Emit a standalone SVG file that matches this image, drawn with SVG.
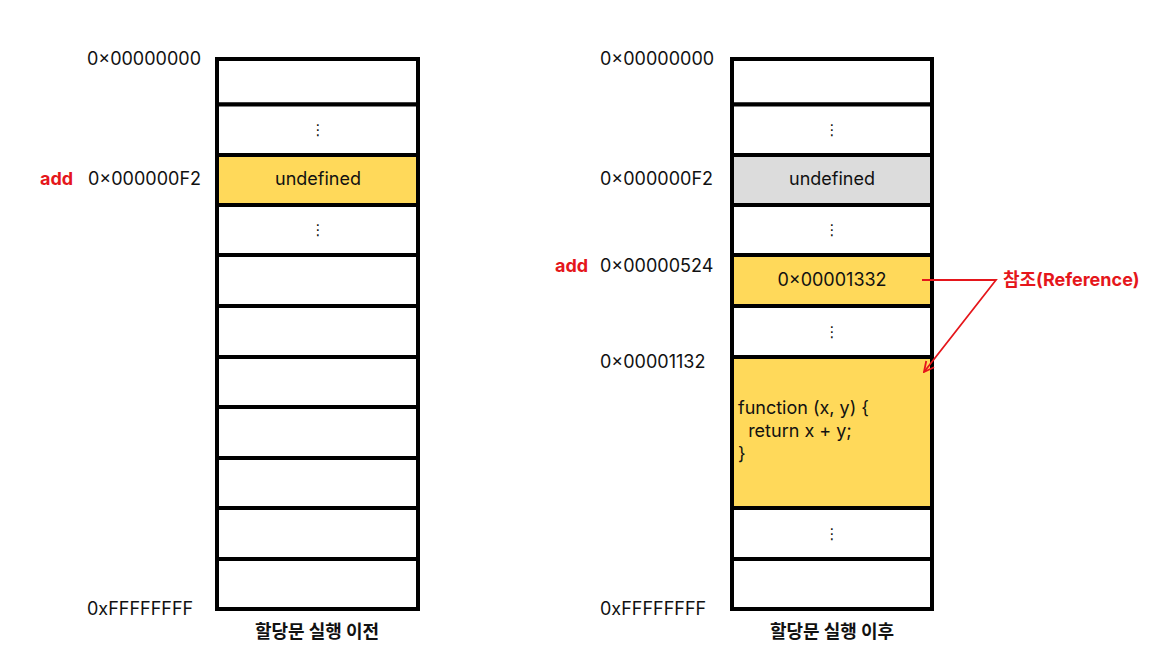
<svg xmlns="http://www.w3.org/2000/svg" width="1176" height="666" viewBox="0 0 1176 666">
<defs>
<style>
.cell{stroke:#000;stroke-width:4;fill:#fff}
.y{fill:#FFD95A}
.g{fill:#DCDCDC}
.t{font-family:Inter,"Liberation Sans","Noto Sans CJK KR",sans-serif;font-size:18px;fill:#111}
.c{text-anchor:middle}
.r{text-anchor:end}
.red{font-family:Inter,"Liberation Sans","Noto Sans CJK KR",sans-serif;font-size:18px;font-weight:bold;fill:#E5161B}
.cap{font-family:"Noto Sans CJK KR",sans-serif;font-size:18px;font-weight:bold;fill:#111;text-anchor:middle}
.dots{font-family:"DejaVu Sans",sans-serif;font-size:15px;fill:#111;text-anchor:middle}
</style>
<marker id="ah" viewBox="0 0 12 12" refX="11" refY="6" markerWidth="12" markerHeight="12" markerUnits="userSpaceOnUse" orient="auto">
<path d="M1,1 L11,6 L1,11" fill="none" stroke="#E5161B" stroke-width="1.8"/>
</marker>
</defs>
<rect width="1176" height="666" fill="#fff"/>

<g id="left-memory">
<rect class="cell" x="217" y="59" width="201" height="45.5"/>
<rect class="cell" x="217" y="104.5" width="201" height="50.5"/>
<rect class="cell y" x="217" y="155" width="201" height="50"/>
<rect class="cell" x="217" y="205" width="201" height="50"/>
<rect class="cell" x="217" y="255" width="201" height="51"/>
<rect class="cell" x="217" y="306" width="201" height="51"/>
<rect class="cell" x="217" y="357" width="201" height="50"/>
<rect class="cell" x="217" y="407" width="201" height="51"/>
<rect class="cell" x="217" y="458" width="201" height="50"/>
<rect class="cell" x="217" y="508" width="201" height="51"/>
<rect class="cell" x="217" y="559" width="201" height="50"/>
<text class="dots" x="318" y="135">⋮</text>
<text class="t c" x="318" y="185">undefined</text>
<text class="dots" x="318" y="235">⋮</text>
</g>

<g id="left-labels">
<text class="t r" x="201" y="65">0×00000000</text>
<text class="red" x="40" y="185">add</text>
<text class="t r" x="201" y="185">0×000000F2</text>
<text class="t" x="87" y="615">0xFFFFFFFF</text>
<text class="cap" x="317" y="638">할당문 실행 이전</text>
</g>

<g id="right-memory">
<rect class="cell" x="732" y="59" width="200" height="45.5"/>
<rect class="cell" x="732" y="104.5" width="200" height="50.5"/>
<rect class="cell g" x="732" y="155" width="200" height="50"/>
<rect class="cell" x="732" y="205" width="200" height="50"/>
<rect class="cell y" x="732" y="255" width="200" height="51"/>
<rect class="cell" x="732" y="306" width="200" height="51"/>
<rect class="cell y" x="732" y="357" width="200" height="151"/>
<rect class="cell" x="732" y="508" width="200" height="51"/>
<rect class="cell" x="732" y="559" width="200" height="50"/>
<text class="dots" x="832" y="135">⋮</text>
<text class="t c" x="832" y="185">undefined</text>
<text class="dots" x="832" y="235">⋮</text>
<text class="t c" x="832" y="286">0×00001332</text>
<text class="dots" x="832" y="337">⋮</text>
<text class="t" x="738" y="414">function (x, y) {</text>
<text class="t" x="738" y="437" xml:space="preserve">  return x + y;</text>
<text class="t" x="738" y="460">}</text>
<text class="dots" x="832" y="539">⋮</text>
</g>

<g id="right-labels">
<text class="t" x="600" y="65">0×00000000</text>
<text class="t" x="600" y="185">0×000000F2</text>
<text class="red" x="555" y="272">add</text>
<text class="t" x="600" y="272">0×00000524</text>
<text class="t" x="600" y="368">0×00001132</text>
<text class="t" x="600" y="615">0xFFFFFFFF</text>
<text class="cap" x="832" y="638">할당문 실행 이후</text>
</g>

<g id="connectors">
<path d="M922,280 L996,280 L924,372" fill="none" stroke="#E5161B" stroke-width="1.8" marker-end="url(#ah)"/>
</g>

<g id="reference-label">
<text class="red" x="1003" y="286">참조(Reference)</text>
</g>
</svg>
